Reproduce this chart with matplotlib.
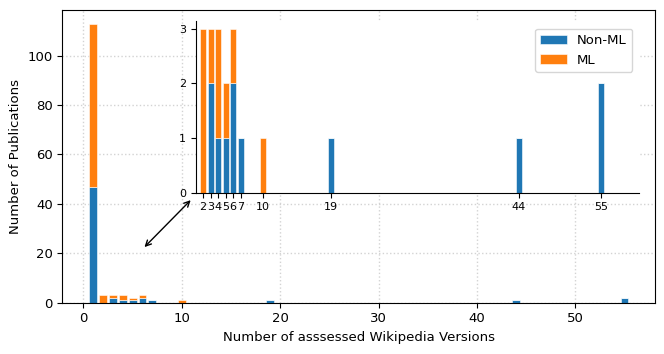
import matplotlib
matplotlib.use("Agg")
import matplotlib.pyplot as plt
import numpy as np

versions = [1, 2, 3, 4, 5, 6, 7, 10, 19, 44, 55]
non_ml = [47, 0, 2, 1, 1, 2, 1, 0, 1, 1, 2]
ml = [66, 3, 1, 2, 1, 1, 0, 1, 0, 0, 0]

blue = "#1f77b4"
orange = "#ff7f0e"

fig = plt.figure(figsize=(6.64, 3.54), dpi=100)
ax = fig.add_axes([0.094, 0.145, 0.893, 0.828])

ax.bar(versions, non_ml, width=0.8, color=blue, edgecolor="white", linewidth=0.4, label="Non-ML")
ax.bar(versions, ml, width=0.8, bottom=non_ml, color=orange, edgecolor="white", linewidth=0.4, label="ML")
ax.grid(True, linestyle=":", color="lightgray", linewidth=1)
ax.set_axisbelow(True)
ax.set_xlabel("Number of asssessed Wikipedia Versions", fontsize=9.5)
ax.set_ylabel("Number of Publications", fontsize=9.5)
ax.tick_params(labelsize=9.5)

# inset with versions > 1
iv = versions[1:]
inm = non_ml[1:]
iml = ml[1:]
ins = fig.add_axes([0.295, 0.456, 0.667, 0.486])
ins.bar(iv, inm, width=0.8, color=blue, edgecolor="white", linewidth=0.4, label="Non-ML")
ins.bar(iv, iml, width=0.8, bottom=inm, color=orange, edgecolor="white", linewidth=0.4, label="ML")
ins.set_xlim(1.05, 60)
ins.set_xticks(iv)
ins.set_xticklabels([str(v) for v in iv])
ins.set_yticks([0, 1, 2, 3])
ins.tick_params(labelsize=8)
ins.spines["top"].set_visible(False)
ins.spines["right"].set_visible(False)
ins.legend(loc="upper right", fontsize=9.5, bbox_to_anchor=(1.0, 0.99))

ax.annotate("", xy=(10.9, 41.5), xytext=(6.2, 22.5),
            arrowprops=dict(arrowstyle="<->", color="black", lw=1,
                            shrinkA=0, shrinkB=0))

fig.savefig("out.png", dpi=100)
